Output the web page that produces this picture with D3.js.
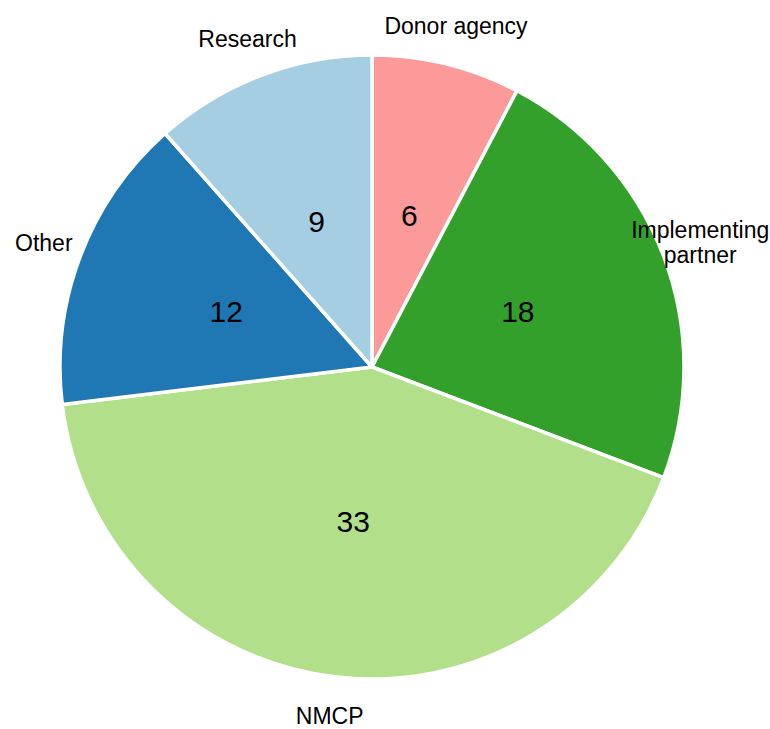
<!DOCTYPE html>
<html>
<head>
<meta charset="utf-8">
<script src="https://cdn.jsdelivr.net/npm/d3@7"></script>
<style>
  html, body { margin: 0; padding: 0; background: #fff; }
  svg { display: block; font-family: "Liberation Sans", Arial, sans-serif; }
</style>
</head>
<body>
<svg id="chart" width="770" height="729"></svg>
<script>
// Respondent affiliations, clockwise from 12 o'clock
const categories = ["Donor agency", "Implementing partner", "NMCP", "Other", "Research"];
const counts = [6, 18, 33, 12, 9];
const colors = ["#fb9a99", "#33a02c", "#b2df8a", "#1f78b4", "#a6cee3"];

const width = 770, height = 729;
const cx = 372, cy = 367, radius = 312;

const rows = categories.map((c, i) => ({ name: c, value: counts[i], color: colors[i] }));

const pie = d3.pie().value(d => d.value).sort(null);
const arcs = pie(rows);

const arc = d3.arc().innerRadius(0).outerRadius(radius);
const valueArc = d3.arc().innerRadius(radius * 0.5).outerRadius(radius * 0.5);
const nameArc = d3.arc().innerRadius(radius * 1.125).outerRadius(radius * 1.125);

const svg = d3.select("#chart");
const g = svg.append("g").attr("transform", `translate(${cx},${cy})`);

g.selectAll("path.slice")
  .data(arcs)
  .join("path")
  .attr("class", "slice")
  .attr("d", arc)
  .attr("fill", d => d.data.color)
  .attr("stroke", "#fff")
  .attr("stroke-width", 3.5)
  .attr("stroke-linejoin", "round");

// counts inside each slice
g.selectAll("text.value")
  .data(arcs)
  .join("text")
  .attr("class", "value")
  .attr("transform", d => `translate(${valueArc.centroid(d)})`)
  .attr("text-anchor", "middle")
  .attr("dy", "0.35em")
  .attr("font-size", 30)
  .attr("fill", "#000")
  .text(d => d.data.value);

// category names outside the pie; long names wrap onto two lines
const wrap = { "Implementing partner": ["Implementing", "partner"] };
const lineH = 25;

g.selectAll("text.name")
  .data(arcs)
  .join("text")
  .attr("class", "name")
  .attr("transform", d => `translate(${nameArc.centroid(d)})`)
  .attr("text-anchor", "middle")
  .attr("font-size", 23)
  .attr("fill", "#000")
  .each(function(d) {
    const lines = wrap[d.data.name] || [d.data.name];
    const t = d3.select(this);
    const y0 = -((lines.length - 1) * lineH) / 2;
    lines.forEach((ln, i) => {
      t.append("tspan")
        .attr("x", 0)
        .attr("y", y0 + i * lineH)
        .attr("dy", "0.35em")
        .text(ln);
    });
  });
</script>
</body>
</html>
